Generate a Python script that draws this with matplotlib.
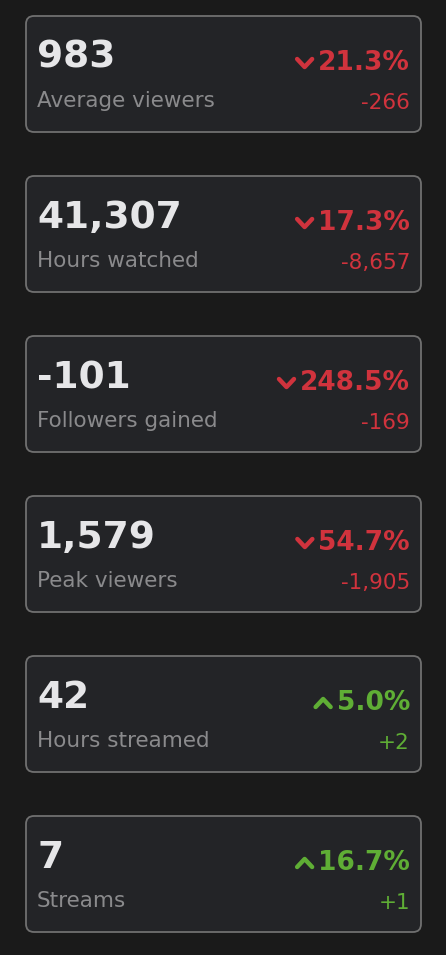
import matplotlib; matplotlib.use('Agg')
import matplotlib.pyplot as plt
from matplotlib.patches import FancyBboxPatch

values = ["983", "41,307", "-101", "1,579", "42", "7"]
labels = ["Average viewers", "Hours watched", "Followers gained", "Peak viewers",
          "Hours streamed", "Streams"]
pct = [-21.3, -17.3, -248.5, -54.7, 5.0, 16.7]
deltas = ["-266", "-8,657", "-169", "-1,905", "+2", "+1"]

BG = "#1a1a1a"; CARD = "#232427"; EDGE = "#707070"
RED = "#d0333d"; GREEN = "#5fae35"

fig = plt.figure(figsize=(4.46, 9.55), dpi=100, facecolor=BG)
ax = fig.add_axes([0, 0, 1, 1]); ax.set_facecolor(BG)
ax.set_xlim(0, 446); ax.set_ylim(955, 0); ax.axis('off')

for i, (v, lab, p, d) in enumerate(zip(values, labels, pct, deltas)):
    top = 15 + 160 * i
    ax.add_patch(FancyBboxPatch((26, top + 1), 395, 116, boxstyle="round,pad=0,rounding_size=8",
                                fc=CARD, ec=EDGE, lw=1.3))
    ax.text(37, top + 43, v, color="#e6e6e8", fontsize=27, fontweight='bold', va='center', ha='left')
    ax.text(37, top + 86, lab, color="#8a8a8c", fontsize=15.5, va='center', ha='left')
    col = RED if p < 0 else GREEN
    t = ax.text(410, top + 48, f"{abs(p):.1f}%", color=col, fontsize=19, fontweight='bold',
                va='center', ha='right')
    fig.canvas.draw()
    bb = t.get_window_extent().transformed(ax.transData.inverted())
    x0 = min(bb.x0, bb.x1) - 6
    cy = top + 48
    if p < 0:
        xs, ys = [x0 - 15, x0 - 7.5, x0], [cy - 4, cy + 4, cy - 4]
    else:
        xs, ys = [x0 - 15, x0 - 7.5, x0], [cy + 4, cy - 4, cy + 4]
    ax.plot(xs, ys, color=col, lw=3.2, solid_capstyle='round', solid_joinstyle='round')
    ax.text(410, top + 88, d, color=col, fontsize=15.5, va='center', ha='right')

fig.savefig("out.png", dpi=100, facecolor=BG)
